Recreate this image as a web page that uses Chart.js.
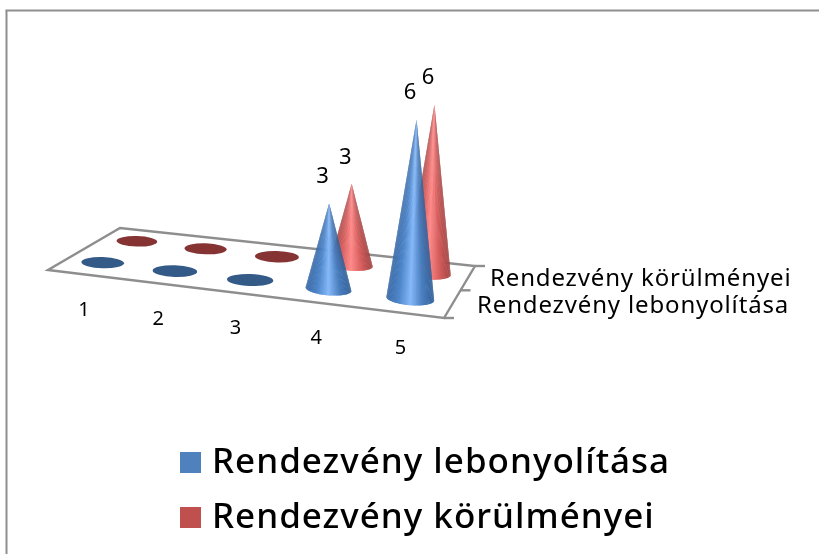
<!DOCTYPE html>
<html>
<head>
<meta charset="utf-8">
<style>
    html, body { margin: 0; padding: 0; background: #fff; }
    #wrap { width: 819px; height: 554px; }
</style>
<script src="https://cdn.jsdelivr.net/npm/chart.js@4"></script>
</head>
<body>
<div id="wrap"><canvas id="coneChart" width="819" height="554"></canvas></div>
<script>
const categories = ['1', '2', '3', '4', '5'];
const seriesNames = ['Rendezvény lebonyolítása', 'Rendezvény körülményei'];
const lebonyolitasValues = [0, 0, 0, 3, 6];
const korulmenyeiValues = [0, 0, 0, 3, 6];
const valueMax = 6;

// floor corners on screen: front left, front right, back right, back left
const floor = [[48, 270], [444, 318], [475, 266], [120, 228]];
const fontName = '"Noto Sans", sans-serif';

// shade stops run across the cone from left edge to right edge
const coneStyles = [
    { disc: '#345a87', shades: [[58, 106, 166], [79, 135, 203], [133, 184, 248], [74, 127, 192], [50, 96, 152]] },
    { disc: '#853333', shades: [[168, 73, 72], [217, 99, 98], [255, 138, 138], [214, 95, 94], [160, 66, 65]] }
];

function makeProjection(q) {
    const [[x0, y0], [x1, y1], [x2, y2], [x3, y3]] = q;
    const dx1 = x1 - x2, dx2 = x3 - x2, sx = x0 - x1 + x2 - x3;
    const dy1 = y1 - y2, dy2 = y3 - y2, sy = y0 - y1 + y2 - y3;
    const den = dx1 * dy2 - dx2 * dy1;
    const g = (sx * dy2 - dx2 * sy) / den;
    const h = (dx1 * sy - sx * dy1) / den;
    const a = x1 - x0 + g * x1, b = x3 - x0 + h * x3;
    const d = y1 - y0 + g * y1, e = y3 - y0 + h * y3;
    return function(u, v) {
        const w = g * u + h * v + 1;
        return { x: (a * u + b * v + x0) / w, y: (d * u + e * v + y0) / w };
    };
}
const project = makeProjection(floor);

function line(ctx, x1, y1, x2, y2) {
    ctx.beginPath();
    ctx.moveTo(x1, y1);
    ctx.lineTo(x2, y2);
    ctx.stroke();
}

function shadeAt(shades, p) {
    const pos = Math.min(Math.max(p, 0), 1) * (shades.length - 1);
    const i = Math.min(Math.floor(pos), shades.length - 2);
    const t = pos - i;
    const rgb = shades[i].map((c, k) => Math.round(c + (shades[i + 1][k] - c) * t));
    return `rgb(${rgb[0]},${rgb[1]},${rgb[2]})`;
}

// turn a bar element into the cone that stands for it on the floor
function coneFor(chart, bar, s) {
    const area = chart.chartArea;
    const u = (bar.x - area.left) / area.width;
    const v = (s + 0.5) / chart.data.datasets.length;
    const step = 0.5 / categories.length;
    const pos = project(u, v);
    const a = project(u - step, v), b = project(u + step, v);
    const local = Math.hypot(b.x - a.x, b.y - a.y);
    const frac = (bar.base - bar.y) / chart.scales.y.height;
    return {
        x: pos.x,
        y: pos.y,
        local: local,
        slope: Math.atan2(b.y - a.y, b.x - a.x),
        height: frac * local * 2.13,
        lean: frac * (u - 0.65) * 25
    };
}

function drawCone(ctx, c, style) {
    if (c.height < 0.5) {
        ctx.fillStyle = style.disc;
        ctx.beginPath();
        ctx.ellipse(c.x, c.y, c.local * 0.3, c.local * 0.078, c.slope * 0.25, 0, Math.PI * 2);
        ctx.fill();
        return;
    }
    const rx = c.local * 0.285, ry = rx * 0.27;
    const tilt = c.slope * 0.7;
    const cos = Math.cos(tilt), sin = Math.sin(tilt);
    const rim = a => ({
        x: c.x + rx * Math.cos(a) * cos - ry * Math.sin(a) * sin,
        y: c.y + rx * Math.cos(a) * sin + ry * Math.sin(a) * cos
    });
    const apexX = c.x + c.lean, apexY = c.y - c.height;
    const slices = 48;
    const slice = k => {
        const p1 = rim(Math.PI - Math.PI * k / slices);
        const p2 = rim(Math.PI - Math.PI * (k + 1) / slices);
        const outer = k < slices / 2 ? rim(Math.PI - Math.PI * (k + 1.6) / slices) : rim(Math.PI - Math.PI * (k - 0.6) / slices);
        ctx.fillStyle = shadeAt(style.shades, ((p1.x + p2.x) / 2 - (c.x - rx)) / (2 * rx));
        ctx.beginPath();
        ctx.moveTo(apexX, apexY);
        ctx.lineTo(k < slices / 2 ? p1.x : outer.x, k < slices / 2 ? p1.y : outer.y);
        ctx.lineTo(k < slices / 2 ? p2.x : p1.x, k < slices / 2 ? p2.y : p1.y);
        if (k < slices / 2) ctx.lineTo(outer.x, outer.y);
        else ctx.lineTo(p2.x, p2.y);
        ctx.closePath();
        ctx.fill();
    };
    // edges first, so the light middle ends on top near the tip
    for (let k = 0; k < slices / 2; k++) {
        slice(k);
        slice(slices - 1 - k);
    }
}

const conePlugin = {
    id: 'cones',
    beforeDatasetsDraw(chart) {
        const ctx = chart.ctx;
        const area = chart.chartArea;
        const xScale = chart.scales.x;
        const count = chart.data.datasets.length;
        ctx.save();

        // outer frame
        ctx.strokeStyle = '#8f8f8f';
        ctx.lineWidth = 2;
        line(ctx, 6.5, chart.height, 6.5, 10.5);
        line(ctx, 5.5, 10.5, chart.width, 10.5);

        // floor and depth ticks
        ctx.strokeStyle = '#8e8e8e';
        ctx.lineWidth = 2.4;
        ctx.beginPath();
        floor.forEach((p, i) => i ? ctx.lineTo(p[0], p[1]) : ctx.moveTo(p[0], p[1]));
        ctx.closePath();
        ctx.stroke();
        [0, 0.5, 1].forEach(v => {
            const p = project(1, v);
            line(ctx, p.x, p.y, p.x + 10, p.y);
        });

        // back series first so the front one covers it
        for (let s = count - 1; s >= 0; s--) {
            chart.getDatasetMeta(s).data.forEach(bar => {
                drawCone(ctx, coneFor(chart, bar, s), coneStyles[s]);
            });
        }

        // value labels over the tips
        ctx.fillStyle = '#000';
        ctx.font = '22px ' + fontName;
        ctx.textAlign = 'center';
        ctx.textBaseline = 'middle';
        for (let s = 0; s < count; s++) {
            const values = chart.data.datasets[s].data;
            chart.getDatasetMeta(s).data.forEach((bar, i) => {
                if (!values[i]) return;
                const c = coneFor(chart, bar, s);
                ctx.fillText(String(values[i]), c.x + c.lean - 6.5, c.y - c.height - 26.5);
            });
        }

        // category labels under the front edge
        ctx.font = '20px ' + fontName;
        categories.forEach((label, i) => {
            const u = (xScale.getPixelForValue(i) - area.left) / area.width;
            const p = project(u, 0);
            ctx.fillText(xScale.getLabelForValue(i), p.x, p.y + 36);
        });

        // series names at the right side of the floor
        ctx.textAlign = 'left';
        ctx.font = '24px ' + fontName;
        ctx.letterSpacing = '0.85px';
        ctx.fillText(seriesNames[1], 490, 279.5);
        ctx.fillText(seriesNames[0], 477, 306.5);

        // legend
        ctx.font = '500 35px ' + fontName;
        ctx.letterSpacing = '1px';
        chart.data.datasets.forEach((ds, s) => {
            const y = 452 + s * 55;
            ctx.fillStyle = ds.backgroundColor;
            ctx.fillRect(180, y, 21, 21);
            ctx.fillStyle = '#000';
            ctx.fillText(ds.label, 212, y + 11);
        });
        ctx.restore();
        return false;
    }
};

new Chart(document.getElementById('coneChart'), {
    type: 'bar',
    data: {
        labels: categories,
        datasets: [
            { label: seriesNames[0], data: lebonyolitasValues, backgroundColor: '#4f81bd', grouped: false },
            { label: seriesNames[1], data: korulmenyeiValues, backgroundColor: '#c0504d', grouped: false }
        ]
    },
    options: {
        responsive: false,
        animation: false,
        layout: { padding: 0 },
        plugins: {
            legend: { display: false },
            tooltip: { enabled: false }
        },
        scales: {
            x: { display: false },
            y: { display: false, min: 0, max: valueMax }
        }
    },
    plugins: [conePlugin]
});
</script>
</body>
</html>
